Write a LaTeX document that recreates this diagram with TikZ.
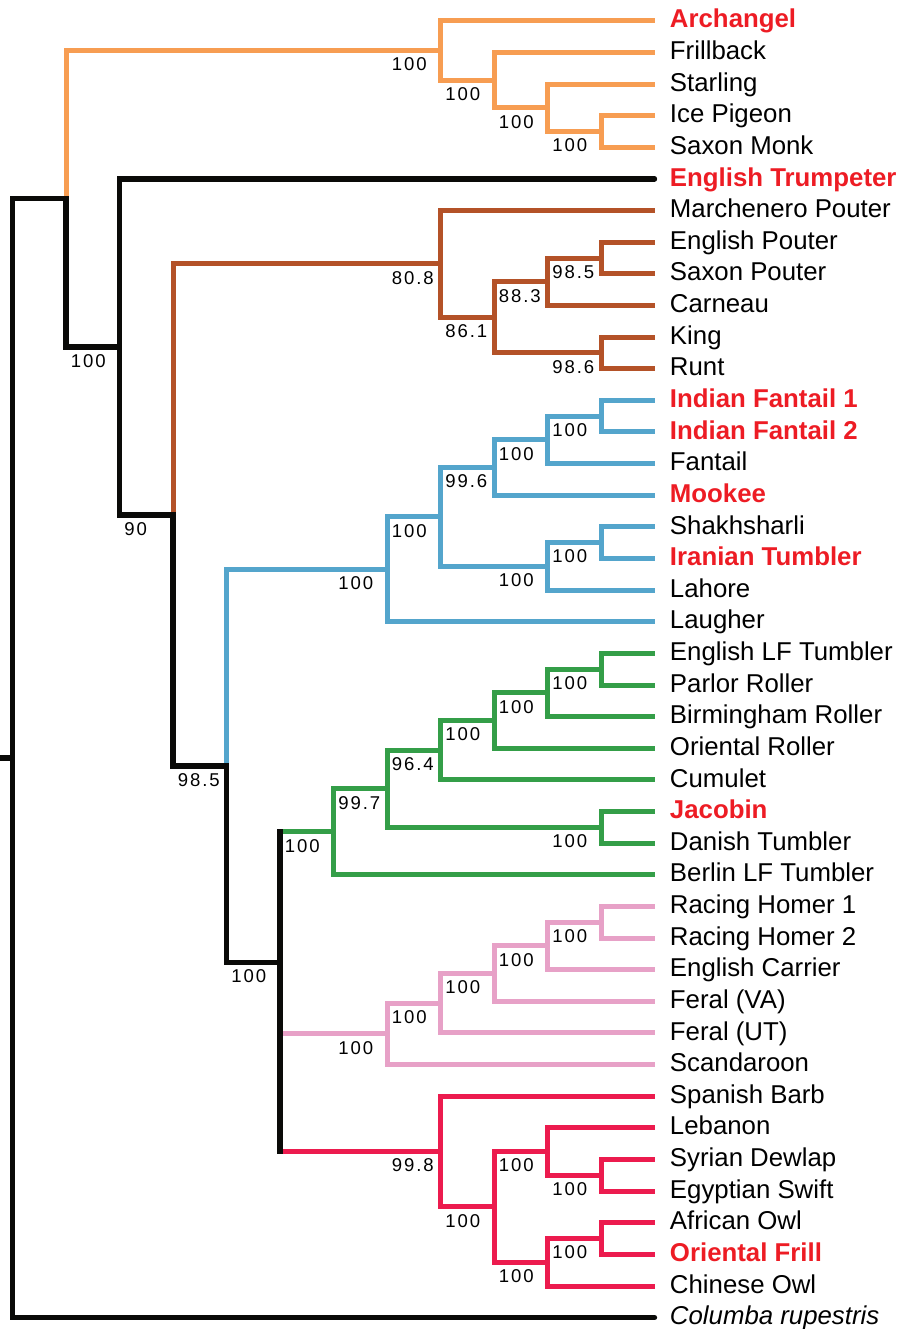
\documentclass[tikz,border=0pt]{standalone}
\usepackage{fontspec}
\setmainfont{Liberation Sans}
\newfontfamily\supfam[LetterSpace=10]{Liberation Sans}
\newcommand\leaffont{\fontsize{19.35pt}{21pt}\selectfont}
\newcommand\supfont{\supfam\fontsize{13.9pt}{15pt}\selectfont}
\definecolor{corange}{HTML}{F79D52}
\definecolor{cbrown}{HTML}{B45228}
\definecolor{cblue}{HTML}{54A5CC}
\definecolor{cgreen}{HTML}{349E48}
\definecolor{cpink}{HTML}{E7A1C7}
\definecolor{cred}{HTML}{EC1B4E}
\definecolor{labred}{HTML}{ED1C24}
\definecolor{cblack}{HTML}{0A0A08}
\newcommand\tbranch[3]{\draw[#1] (#2) |- (#3);}
\tikzset{
  edge/.style={line width=3.75pt, line join=miter, line cap=butt},
  eor/.style={edge, draw=corange},
  ebr/.style={edge, draw=cbrown},
  ebl/.style={edge, draw=cblue},
  egr/.style={edge, draw=cgreen},
  epk/.style={edge, draw=cpink},
  erd/.style={edge, draw=cred},
  ebk/.style={edge, line width=4pt, draw=cblack},
  leaflab/.style={anchor=west, inner xsep=11.6pt, inner ysep=0pt, outer sep=0pt,
    text height=15.7pt, text depth=5pt, font=\leaffont, text=black},
  hilab/.style={leaflab, text=labred, font=\leaffont\bfseries},
  supl/.style={anchor=base west, inner sep=0pt, outer sep=0pt, font=\supfont, text=black}
}
\begin{document}
\begin{tikzpicture}[x=40.125pt, y=-23.7225pt]
\useasboundingbox (-0.23364,-0.6576) rectangle (16.5701,41.3594);
% internal nodes
\coordinate (root) at (0,23.31201);
\coordinate (stub) at (-0.23364,23.31201);
\coordinate (A) at (1,5.62402);
\coordinate (B) at (2,10.31055);
\coordinate (C) at (3,15.62109);
\coordinate (D) at (4,23.55469);
\coordinate (E) at (5,29.76563);
\coordinate (E2) at (5,33.89063);
\coordinate (O1) at (8,0.9375);
\coordinate (O2) at (9,1.875);
\coordinate (O3) at (10,2.75);
\coordinate (O4) at (11,3.5);
\coordinate (P1) at (8,7.6875);
\coordinate (P2) at (9,9.375);
\coordinate (P3) at (10,8.25);
\coordinate (P4) at (11,7.5);
\coordinate (P5) at (11,10.5);
\coordinate (Q1) at (7,17.34375);
\coordinate (Q2) at (8,15.6875);
\coordinate (Q3) at (9,14.125);
\coordinate (Q4) at (10,13.25);
\coordinate (Q5) at (11,12.5);
\coordinate (Q6) at (10,17.25);
\coordinate (Q7) at (11,16.5);
\coordinate (G1) at (6,25.640625);
\coordinate (G2) at (7,24.28125);
\coordinate (G3) at (8,23.0625);
\coordinate (G4) at (9,22.125);
\coordinate (G5) at (10,21.25);
\coordinate (G6) at (11,20.5);
\coordinate (G7) at (11,25.5);
\coordinate (K1) at (7,32.03125);
\coordinate (K2) at (8,31.0625);
\coordinate (K3) at (9,30.125);
\coordinate (K4) at (10,29.25);
\coordinate (K5) at (11,28.5);
\coordinate (R1) at (8,35.75);
\coordinate (R2) at (9,37.5);
\coordinate (R3) at (10,35.75);
\coordinate (R4) at (11,36.5);
\coordinate (R5) at (10,39.25);
\coordinate (R6) at (11,38.5);
% leaves
\node[hilab] (n0) at (12,0) {Archangel};
\node[leaflab] (n1) at (12,1) {Frillback};
\node[leaflab] (n2) at (12,2) {Starling};
\node[leaflab] (n3) at (12,3) {Ice Pigeon};
\node[leaflab] (n4) at (12,4) {Saxon Monk};
\node[hilab] (n5) at (12,5) {English Trumpeter};
\node[leaflab] (n6) at (12,6) {Marchenero Pouter};
\node[leaflab] (n7) at (12,7) {English Pouter};
\node[leaflab] (n8) at (12,8) {Saxon Pouter};
\node[leaflab] (n9) at (12,9) {Carneau};
\node[leaflab] (n10) at (12,10) {King};
\node[leaflab] (n11) at (12,11) {Runt};
\node[hilab] (n12) at (12,12) {Indian Fantail 1};
\node[hilab] (n13) at (12,13) {Indian Fantail 2};
\node[leaflab] (n14) at (12,14) {Fantail};
\node[hilab] (n15) at (12,15) {Mookee};
\node[leaflab] (n16) at (12,16) {Shakhsharli};
\node[hilab] (n17) at (12,17) {Iranian Tumbler};
\node[leaflab] (n18) at (12,18) {Lahore};
\node[leaflab] (n19) at (12,19) {Laugher};
\node[leaflab] (n20) at (12,20) {English LF Tumbler};
\node[leaflab] (n21) at (12,21) {Parlor Roller};
\node[leaflab] (n22) at (12,22) {Birmingham Roller};
\node[leaflab] (n23) at (12,23) {Oriental Roller};
\node[leaflab] (n24) at (12,24) {Cumulet};
\node[hilab] (n25) at (12,25) {Jacobin};
\node[leaflab] (n26) at (12,26) {Danish Tumbler};
\node[leaflab] (n27) at (12,27) {Berlin LF Tumbler};
\node[leaflab] (n28) at (12,28) {Racing Homer 1};
\node[leaflab] (n29) at (12,29) {Racing Homer 2};
\node[leaflab] (n30) at (12,30) {English Carrier};
\node[leaflab] (n31) at (12,31) {Feral (VA)};
\node[leaflab] (n32) at (12,32) {Feral (UT)};
\node[leaflab] (n33) at (12,33) {Scandaroon};
\node[leaflab] (n34) at (12,34) {Spanish Barb};
\node[leaflab] (n35) at (12,35) {Lebanon};
\node[leaflab] (n36) at (12,36) {Syrian Dewlap};
\node[leaflab] (n37) at (12,37) {Egyptian Swift};
\node[leaflab] (n38) at (12,38) {African Owl};
\node[hilab] (n39) at (12,39) {Oriental Frill};
\node[leaflab] (n40) at (12,40) {Chinese Owl};
\node[leaflab, font=\leaffont\itshape] (n41) at (12,41) {Columba rupestris};
% orange clade
\tbranch{eor}{A}{O1}
\tbranch{eor}{O1}{n0.west}
\tbranch{eor}{O1}{O2}
\tbranch{eor}{O2}{n1.west}
\tbranch{eor}{O2}{O3}
\tbranch{eor}{O3}{n2.west}
\tbranch{eor}{O3}{O4}
\tbranch{eor}{O4}{n3.west}
\tbranch{eor}{O4}{n4.west}
% brown clade
\tbranch{ebr}{C}{P1}
\tbranch{ebr}{P1}{n6.west}
\tbranch{ebr}{P1}{P2}
\tbranch{ebr}{P2}{P3}
\tbranch{ebr}{P2}{P5}
\tbranch{ebr}{P3}{P4}
\tbranch{ebr}{P3}{n9.west}
\tbranch{ebr}{P4}{n7.west}
\tbranch{ebr}{P4}{n8.west}
\tbranch{ebr}{P5}{n10.west}
\tbranch{ebr}{P5}{n11.west}
% blue clade
\tbranch{ebl}{D}{Q1}
\tbranch{ebl}{Q1}{Q2}
\tbranch{ebl}{Q1}{n19.west}
\tbranch{ebl}{Q2}{Q3}
\tbranch{ebl}{Q2}{Q6}
\tbranch{ebl}{Q3}{Q4}
\tbranch{ebl}{Q3}{n15.west}
\tbranch{ebl}{Q4}{Q5}
\tbranch{ebl}{Q4}{n14.west}
\tbranch{ebl}{Q5}{n12.west}
\tbranch{ebl}{Q5}{n13.west}
\tbranch{ebl}{Q6}{Q7}
\tbranch{ebl}{Q6}{n18.west}
\tbranch{ebl}{Q7}{n16.west}
\tbranch{ebl}{Q7}{n17.west}
% green clade
\draw[egr] (E |- G1) -- (G1);
\tbranch{egr}{G1}{G2}
\tbranch{egr}{G1}{n27.west}
\tbranch{egr}{G2}{G3}
\tbranch{egr}{G2}{G7}
\tbranch{egr}{G3}{G4}
\tbranch{egr}{G3}{n24.west}
\tbranch{egr}{G4}{G5}
\tbranch{egr}{G4}{n23.west}
\tbranch{egr}{G5}{G6}
\tbranch{egr}{G5}{n22.west}
\tbranch{egr}{G6}{n20.west}
\tbranch{egr}{G6}{n21.west}
\tbranch{egr}{G7}{n25.west}
\tbranch{egr}{G7}{n26.west}
% pink clade
\draw[epk] (E2 |- K1) -- (K1);
\tbranch{epk}{K1}{K2}
\tbranch{epk}{K1}{n33.west}
\tbranch{epk}{K2}{K3}
\tbranch{epk}{K2}{n32.west}
\tbranch{epk}{K3}{K4}
\tbranch{epk}{K3}{n31.west}
\tbranch{epk}{K4}{K5}
\tbranch{epk}{K4}{n30.west}
\tbranch{epk}{K5}{n28.west}
\tbranch{epk}{K5}{n29.west}
% red clade
\draw[erd] (E2 |- R1) -- (R1);
\tbranch{erd}{R1}{n34.west}
\tbranch{erd}{R1}{R2}
\tbranch{erd}{R2}{R3}
\tbranch{erd}{R2}{R5}
\tbranch{erd}{R3}{n35.west}
\tbranch{erd}{R3}{R4}
\tbranch{erd}{R4}{n36.west}
\tbranch{erd}{R4}{n37.west}
\tbranch{erd}{R5}{R6}
\tbranch{erd}{R5}{n40.west}
\tbranch{erd}{R6}{n38.west}
\tbranch{erd}{R6}{n39.west}
% black backbone
\draw[ebk] (stub) -- (root);
\tbranch{ebk}{root}{A}
\tbranch{ebk, line cap=round}{root}{n41.west}
\tbranch{ebk, line cap=rect}{A}{B}
\tbranch{ebk, line cap=round}{B}{n5.west}
\tbranch{ebk}{B}{C}
\tbranch{ebk, line cap=rect}{C}{D}
\tbranch{ebk, line cap=rect}{D}{E}
\draw[ebk, line cap=rect] (E) -- (E |- G1);
\draw[ebk] (E) -- (E2);
\draw[ebk, line cap=rect] (E2) -- (E2 |- K1);
\draw[ebk, line cap=rect] (E2) -- (E2 |- R1);
% support values
\foreach \nd/\v in {O1/100,O2/100,O3/100,O4/100,B/100,C/90,P1/80.8,P2/86.1,P3/88.3,P4/98.5,P5/98.6,
  D/98.5,Q1/100,Q2/100,Q3/99.6,Q4/100,Q5/100,Q6/100,Q7/100,E/100,G1/100,G2/99.7,G3/96.4,G4/100,
  G5/100,G6/100,G7/100,K1/100,K2/100,K3/100,K4/100,K5/100,R1/99.8,R2/100,R3/100,R4/100,R5/100,R6/100}
  \node[supl] (s\nd) at ([xshift=-36.4pt,yshift=-15.2pt]\nd) {\v};
\end{tikzpicture}
\end{document}
